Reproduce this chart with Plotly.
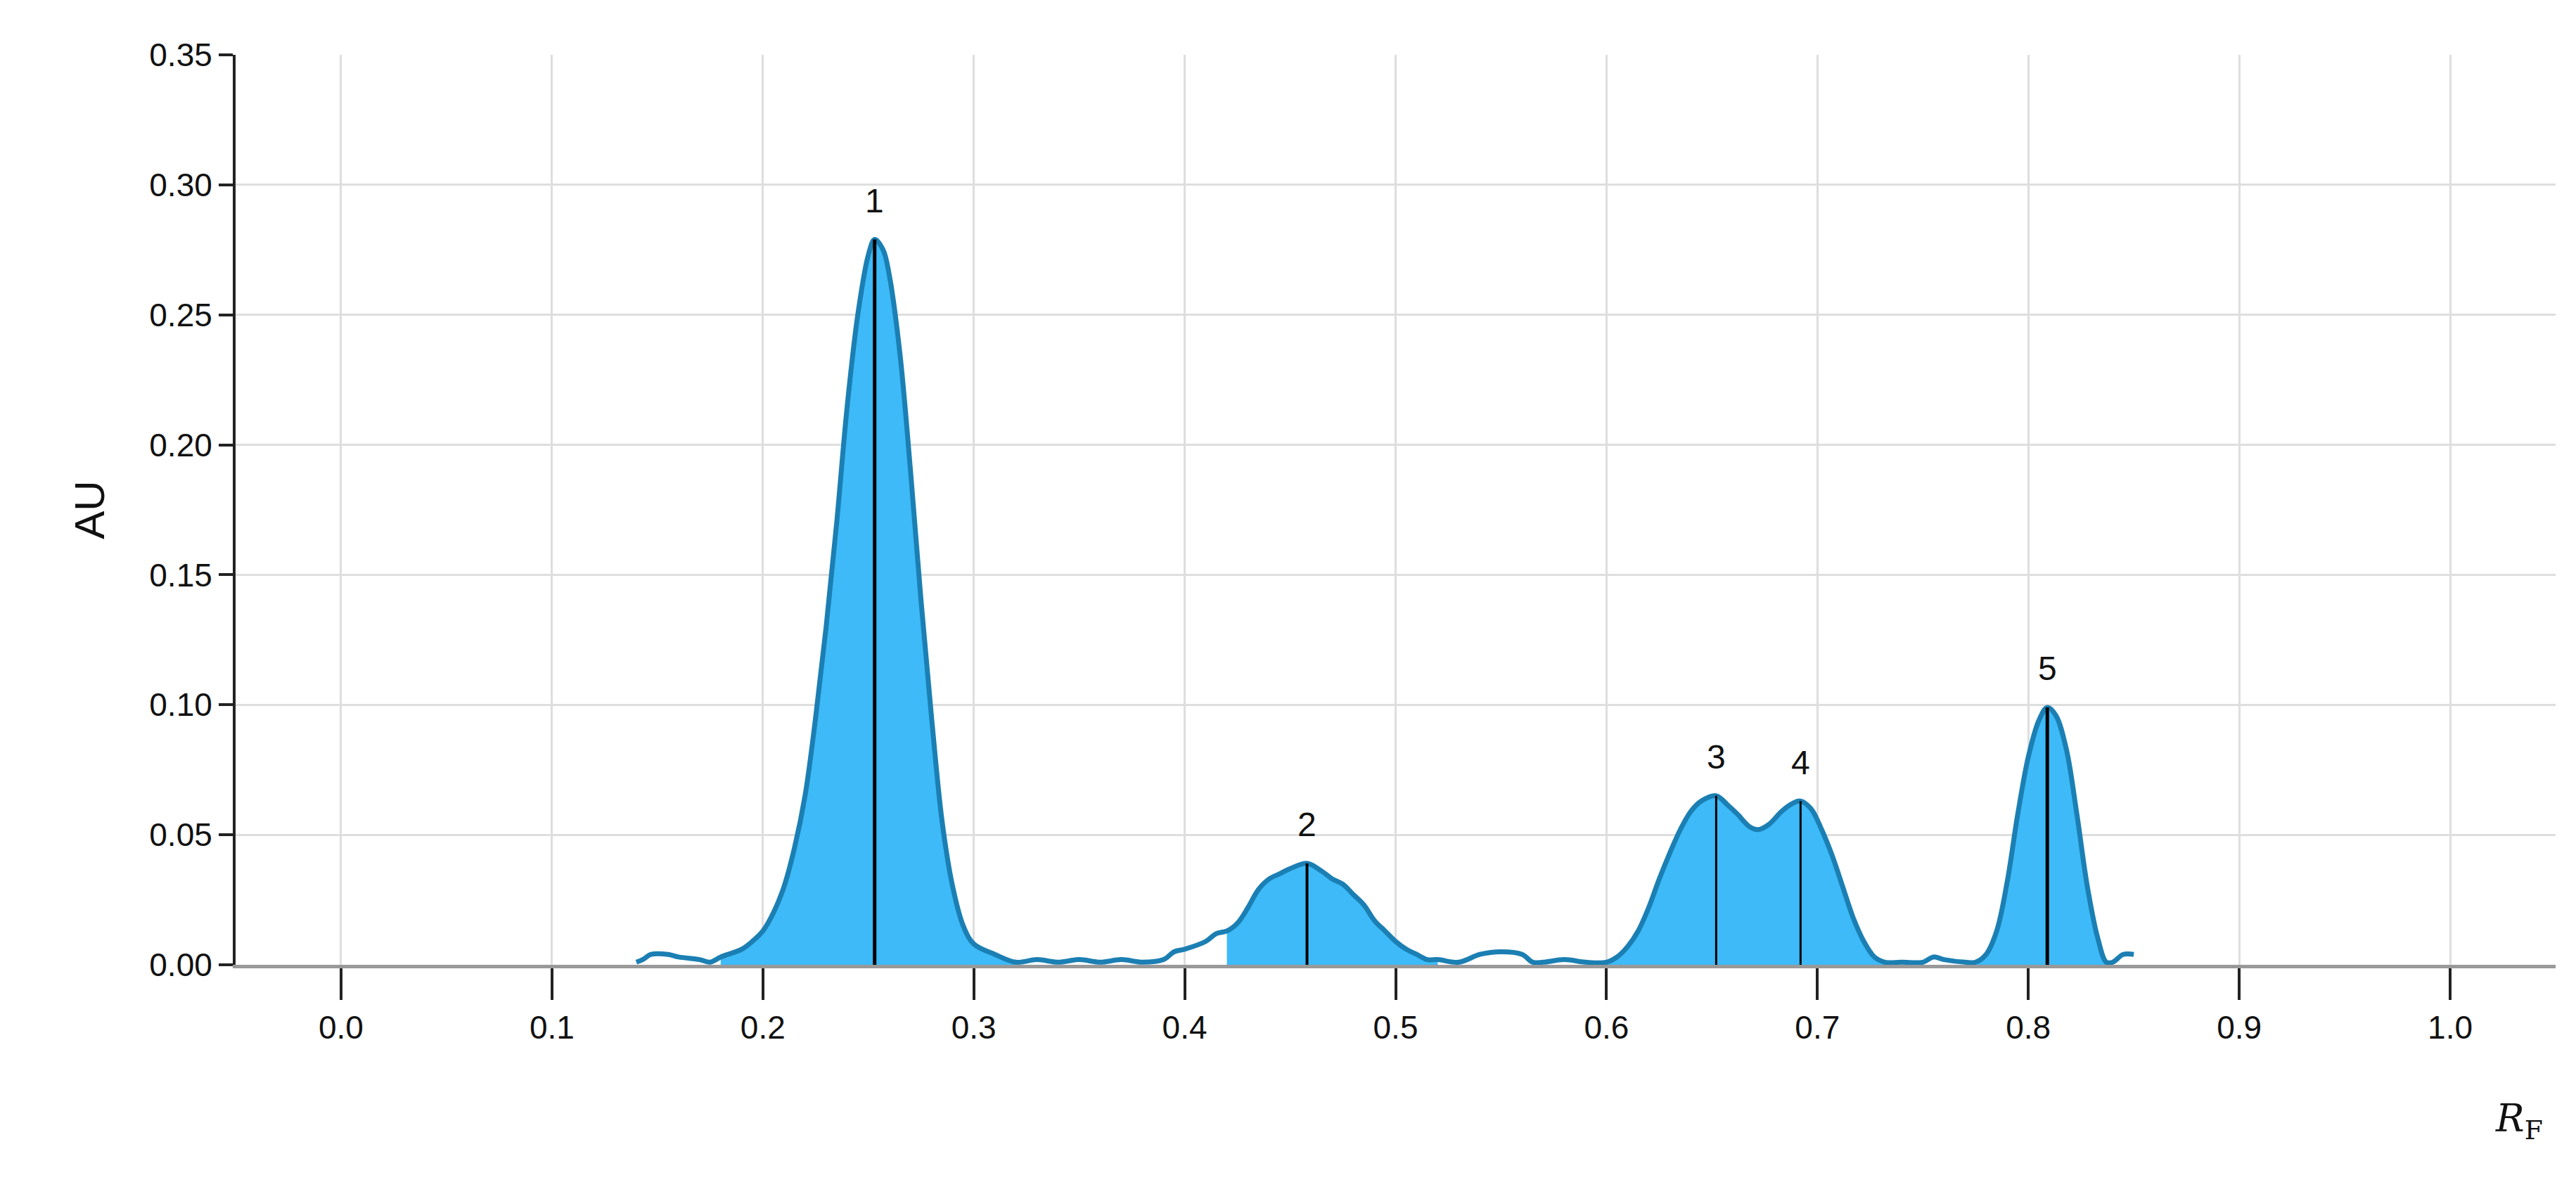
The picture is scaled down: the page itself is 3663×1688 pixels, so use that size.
import plotly.graph_objects as go

rf = [0.14,0.143,0.147,0.155,0.16,0.17,0.175,0.18,0.19,0.195,0.2,0.205,0.21,0.215,0.22,0.225,0.23,0.235,0.24,0.245,0.25,0.253,0.257,0.26,0.265,0.27,0.275,0.28,0.285,0.29,0.295,0.3,0.31,0.32,0.33,0.34,0.35,0.36,0.37,0.38,0.39,0.395,0.4,0.41,0.415,0.42,0.425,0.43,0.435,0.44,0.445,0.45,0.458,0.465,0.47,0.475,0.48,0.485,0.49,0.495,0.5,0.505,0.51,0.515,0.52,0.53,0.54,0.55,0.56,0.565,0.57,0.58,0.59,0.6,0.605,0.61,0.615,0.62,0.625,0.63,0.635,0.64,0.645,0.652,0.658,0.662,0.668,0.672,0.677,0.683,0.688,0.692,0.697,0.702,0.707,0.712,0.717,0.722,0.727,0.732,0.74,0.75,0.755,0.76,0.77,0.775,0.78,0.785,0.79,0.795,0.8,0.805,0.809,0.813,0.818,0.823,0.828,0.833,0.837,0.84,0.845,0.85]
au = [0.001,0.002,0.004,0.004,0.003,0.002,0.001,0.003,0.006,0.009,0.013,0.02,0.03,0.045,0.065,0.095,0.13,0.17,0.215,0.25,0.273,0.279,0.275,0.265,0.235,0.19,0.14,0.095,0.055,0.03,0.015,0.008,0.004,0.001,0.002,0.001,0.002,0.001,0.002,0.001,0.002,0.005,0.006,0.009,0.012,0.013,0.016,0.022,0.029,0.033,0.035,0.037,0.039,0.036,0.033,0.031,0.027,0.023,0.017,0.013,0.009,0.006,0.004,0.002,0.002,0.001,0.004,0.005,0.004,0.001,0.001,0.002,0.001,0.001,0.003,0.007,0.013,0.022,0.033,0.043,0.052,0.059,0.063,0.065,0.061,0.058,0.053,0.052,0.054,0.059,0.062,0.063,0.06,0.052,0.042,0.03,0.018,0.009,0.003,0.001,0.001,0.001,0.003,0.002,0.001,0.001,0.004,0.013,0.032,0.058,0.08,0.094,0.099,0.096,0.083,0.058,0.03,0.01,0.001,0.001,0.004,0.004]

fill_ranges = [(0.18, 0.32), (0.42, 0.52), (0.6, 0.735), (0.775, 0.84)]

peak_labels = ["1", "2", "3", "4", "5"]
peak_rf = [0.253, 0.458, 0.652, 0.692, 0.809]
peak_au = [0.279, 0.039, 0.065, 0.063, 0.099]
peak_width = [5, 4, 3, 3, 5]

x_ticks = [0.0,0.1,0.2,0.3,0.4,0.5,0.6,0.7,0.8,0.9,1.0]
y_ticks = [0.0,0.05,0.1,0.15,0.2,0.25,0.3,0.35]

fig = go.Figure()
for lo, hi in fill_ranges:
    xs = [x for x in rf if lo <= x <= hi]
    ys = [y for x, y in zip(rf, au) if lo <= x <= hi]
    fig.add_trace(go.Scatter(x=xs, y=ys, mode="lines", line=dict(width=0, shape="spline"),
                             fill="tozeroy", fillcolor="#3dbaf7", hoverinfo="skip"))
fig.add_trace(go.Scatter(x=rf, y=au, mode="lines",
                         line=dict(color="#1b7fb3", width=7, shape="spline")))
for lab, px, py, w in zip(peak_labels, peak_rf, peak_au, peak_width):
    fig.add_trace(go.Scatter(x=[px, px], y=[0, py], mode="lines", line=dict(color="black", width=w)))
    fig.add_annotation(x=px, y=py, text=lab, showarrow=False, yshift=55,
                       font=dict(size=48, color="#111", family="Liberation Sans"))

fig.add_annotation(xref="paper", yref="paper", x=0.995, y=-0.2, text="<i>R</i><sub>F</sub>",
                   showarrow=False, font=dict(size=54, family="DejaVu Serif", color="#111"))

fig.update_layout(
    width=3663, height=1688, showlegend=False,
    plot_bgcolor="white", paper_bgcolor="white",
    margin=dict(l=327, r=37, t=70, b=324),
    font=dict(family="Liberation Sans", size=46, color="#111"),
)
fig.update_xaxes(range=[-0.05, 1.05], tickvals=x_ticks, tickformat=".1f",
                 showgrid=True, gridcolor="#dedede", gridwidth=3,
                 ticks="outside", ticklen=45, tickwidth=4, tickcolor="#222",
                 showline=True, linecolor="#999", linewidth=5, zeroline=False)
fig.update_yaxes(range=[0, 0.35], tickvals=y_ticks, tickformat=".2f",
                 showgrid=True, gridcolor="#dedede", gridwidth=3,
                 ticks="outside", ticklen=20, tickwidth=4, tickcolor="#222",
                 showline=True, linecolor="#222", linewidth=4, zeroline=False,
                 title=dict(text="AU", font=dict(size=60), standoff=45))
fig.write_html("out.html")
